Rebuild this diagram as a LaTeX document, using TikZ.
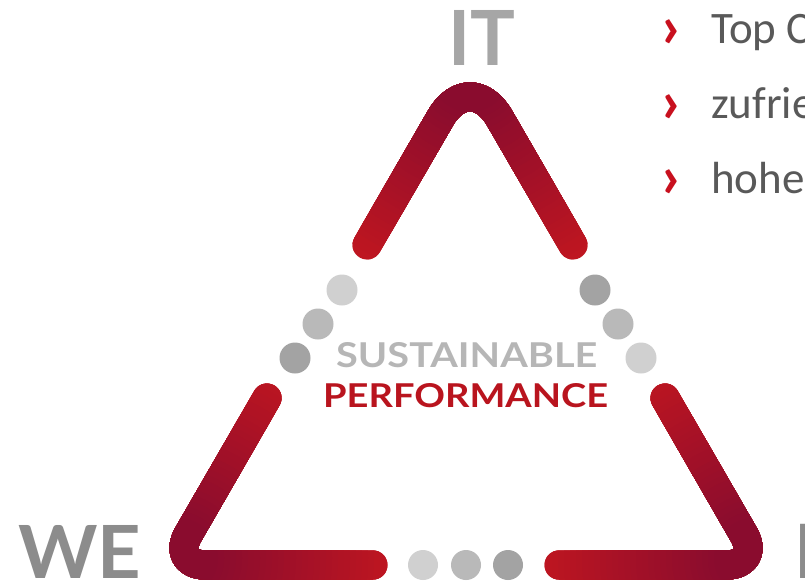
\documentclass[tikz,border=0pt]{standalone}
\usepackage{fontspec}
\setmainfont{Carlito}
\newfontfamily\logofont{Lato}
\definecolor{tridark}{RGB}{138,12,46}
\definecolor{trired}{RGB}{192,22,32}
\definecolor{dotlight}{RGB}{208,208,208}
\definecolor{dotmid}{RGB}{185,185,185}
\definecolor{dotdark}{RGB}{163,163,163}
\definecolor{itgray}{RGB}{166,166,166}
\definecolor{wegray}{RGB}{140,140,140}
\definecolor{susgray}{RGB}{182,182,182}
\definecolor{perfred}{RGB}{185,20,30}
\definecolor{bulred}{RGB}{200,16,30}
\definecolor{txtgray}{RGB}{89,89,89}
\tikzset{
  seg/.style={line width=29pt, line cap=round, line join=round},
  dotnode/.style={circle, inner sep=0pt, minimum size=31pt},
  bullettext/.style={anchor=base west, inner sep=0pt, text=txtgray, font=\fontsize{45}{54}\selectfont},
  bulletmark/.style={anchor=base west, inner sep=0pt, text=bulred, font=\fontsize{62}{70}\selectfont\bfseries},
  logotext/.style={anchor=north west, inner sep=0pt}
}
\begin{document}
\begin{tikzpicture}[x=1pt,y=-1pt]
\useasboundingbox (0,0) rectangle (805,584);
\clip (0,0) rectangle (805,584);
\fill[white] (0,0) rectangle (805,584);

% named end points of the three red strokes
\coordinate (tl) at (367,245);
\coordinate (apex) at (470,67);
\coordinate (tr) at (573,245);
\coordinate (ll) at (267,398);
\coordinate (lc) at (170.6,565);
\coordinate (lb) at (373,565);
\coordinate (rr) at (665,398);
\coordinate (rc) at (761.4,565);
\coordinate (rb) at (559,565);

% top stroke (gradient by nested clips)
\foreach \k in {0,...,30}{
  \pgfmathsetmacro\rr{220-6*\k}
  \pgfmathtruncatemacro\pp{100-100*\k/30}
  \begin{scope}
    \clip (470,72) circle[radius=\rr pt];
    \draw[seg, rounded corners=59pt, color=trired!\pp!tridark] (tl) -- (apex) -- (tr);
  \end{scope}
}
% bottom-left stroke
\foreach \k in {0,...,30}{
  \pgfmathsetmacro\rr{220-6*\k}
  \pgfmathtruncatemacro\pp{100-100*\k/30}
  \begin{scope}
    \clip (178,558) circle[radius=\rr pt];
    \draw[seg, rounded corners=35pt, color=trired!\pp!tridark] (ll) -- (lc) -- (lb);
  \end{scope}
}
% bottom-right stroke
\foreach \k in {0,...,30}{
  \pgfmathsetmacro\rr{220-6*\k}
  \pgfmathtruncatemacro\pp{100-100*\k/30}
  \begin{scope}
    \clip (754,558) circle[radius=\rr pt];
    \draw[seg, rounded corners=35pt, color=trired!\pp!tridark] (rr) -- (rc) -- (rb);
  \end{scope}
}

% gray dots
\node[dotnode, fill=dotlight] (dl1) at (342,290) {};
\node[dotnode, fill=dotmid]   (dl2) at (318,324) {};
\node[dotnode, fill=dotdark]  (dl3) at (295,358) {};
\node[dotnode, fill=dotdark]  (dr1) at (595,290) {};
\node[dotnode, fill=dotmid]   (dr2) at (618,324) {};
\node[dotnode, fill=dotlight] (dr3) at (641,358) {};
\node[dotnode, fill=dotlight, minimum size=30pt] (db1) at (423,565) {};
\node[dotnode, fill=dotmid, minimum size=30pt]   (db2) at (466,565) {};
\node[dotnode, fill=dotdark, minimum size=30pt]  (db3) at (508,565) {};

% logo words
\node[logotext, text=itgray] (it) at (448,10) {\resizebox{67pt}{55pt}{\logofont\bfseries IT}};
\node[logotext, text=wegray] (we) at (18,525) {\resizebox{123pt}{53pt}{\logofont\bfseries WE}};
\node[anchor=base west, inner sep=0pt, text=wegray] (i) at (794,578) {\fontsize{75}{80}\selectfont\logofont\bfseries I};
\node[logotext, text=susgray] (sus) at (336,342) {\resizebox{261pt}{25pt}{\logofont\bfseries SUSTAINABLE}};
\node[logotext, text=perfred] (perf) at (323,383) {\resizebox{285pt}{24pt}{\logofont\bfseries PERFORMANCE}};

% bullets
\node[bulletmark] (m1) at (660,47) {›};
\node[bulletmark] (m2) at (660,122) {›};
\node[bulletmark] (m3) at (660,197) {›};
\node[bullettext] (t1) at (711,43) {Top C};
\node[bullettext] (t2) at (711,118) {zufrie};
\node[bullettext] (t3) at (711,193) {hohe};
\end{tikzpicture}
\end{document}
